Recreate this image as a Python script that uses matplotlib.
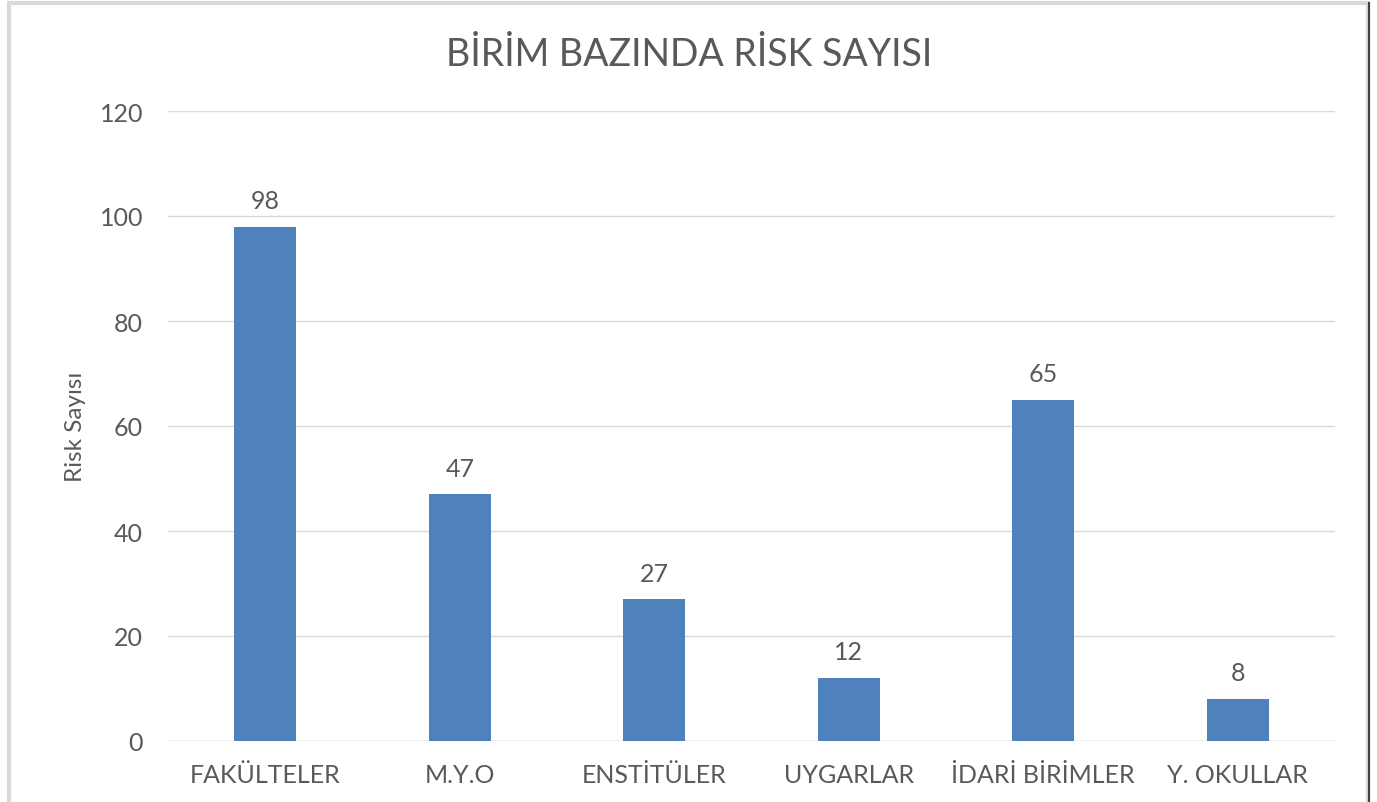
import matplotlib
matplotlib.use("Agg")
import matplotlib.pyplot as plt
from matplotlib.patches import Rectangle
from matplotlib.lines import Line2D

categories = ["FAKÜLTELER", "M.Y.O", "ENSTİTÜLER", "UYGARLAR", "İDARİ BİRİMLER", "Y. OKULLAR"]
values = [98, 47, 27, 12, 65, 8]
yticks = [0, 20, 40, 60, 80, 100, 120]

plt.rcParams['font.family'] = ['Lato', 'DejaVu Sans']
txt = '#595959'

fig = plt.figure(figsize=(13.77, 8.03), dpi=100)
ax = fig.add_axes([168/1377, 1-742/803, (1335-168)/1377, (742-112)/803])

x = range(len(categories))
bars = ax.bar(x, values, width=0.32, color='#4f81bd', zorder=3)
for xi, v in zip(x, values):
    ax.annotate(str(v), (xi, v), xytext=(0, 10.5), textcoords='offset points',
                ha='center', va='bottom', fontsize=18, color=txt)

ax.set_xlim(-0.5, len(categories)-0.5)
ax.set_ylim(0, 120)
ax.set_yticks(yticks)
ax.set_xticks(list(x))
ax.set_xticklabels(categories)
ax.tick_params(axis='both', length=0, labelsize=18, labelcolor=txt)
ax.tick_params(axis='y', pad=18)
ax.tick_params(axis='x', pad=16)
ax.grid(axis='y', color='#d9d9d9', linewidth=1, zorder=0)
for s in ax.spines.values():
    s.set_visible(False)
ax.axhline(0, color='#d9d9d9', linewidth=1, zorder=2)
ax.set_ylabel('Risk Sayısı', fontsize=17.5, color=txt, labelpad=10)

fig.text(689/1377, 1-55/803, 'BİRİM BAZINDA RİSK SAYISI', ha='center', va='center',
         fontsize=27, color=txt)

fig.patches.append(Rectangle((9/1377, -0.02), (1368-9)/1377, 1-4/803+0.02,
                             transform=fig.transFigure, fill=False,
                             edgecolor='#d9d9d9', linewidth=3))
fig.lines.append(Line2D([1369/1377, 1369/1377], [0, 1-4/803], transform=fig.transFigure,
                        color='#404040', linewidth=1.5))

fig.savefig('out.png', dpi=100)
